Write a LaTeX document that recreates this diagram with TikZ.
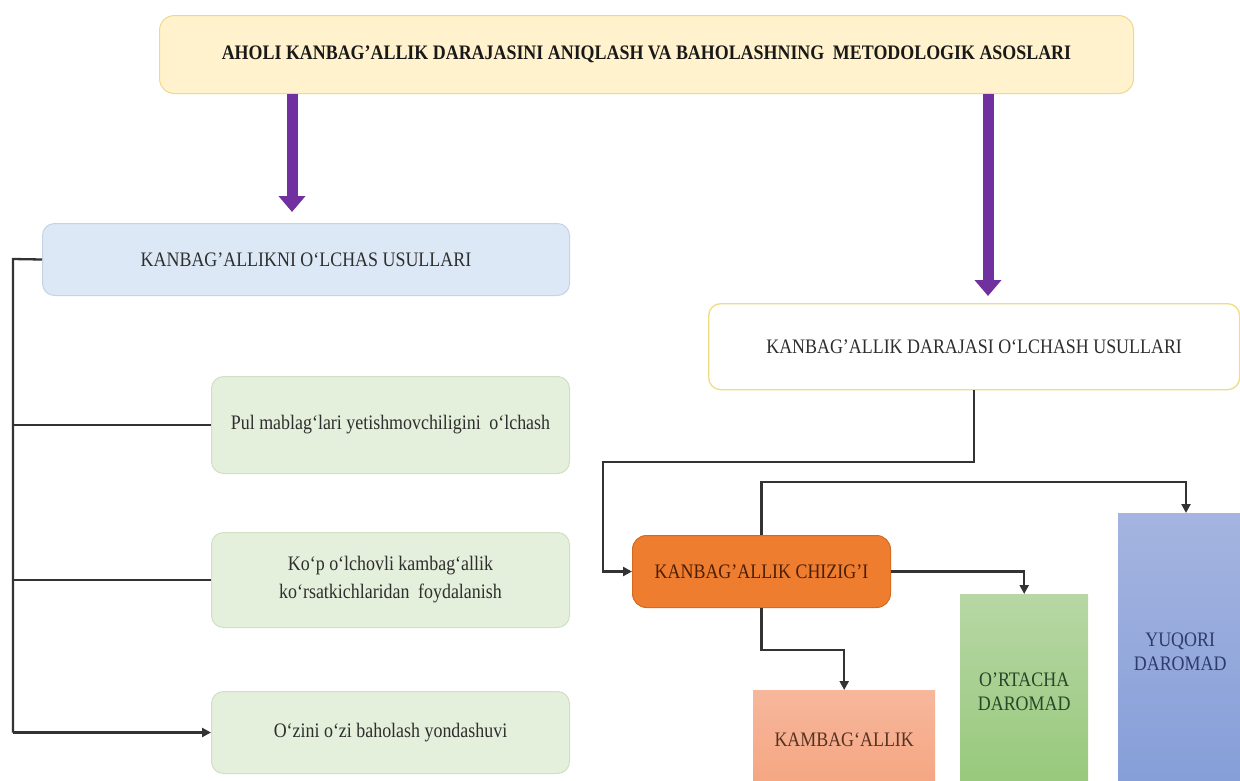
\documentclass[tikz,border=0pt]{standalone}
\usepackage{fontspec}
\setmainfont[FakeStretch=0.87]{Liberation Serif}
\usetikzlibrary{arrows.meta,calc}
\definecolor{topfill}{HTML}{FFF2CC}
\definecolor{topdraw}{HTML}{F2D68A}
\definecolor{lhfill}{HTML}{DDE8F6}
\definecolor{lhdraw}{HTML}{C5D3E6}
\definecolor{gfill}{HTML}{E4EFDC}
\definecolor{gdraw}{HTML}{CFE0C4}
\definecolor{rhdraw}{HTML}{F0DC82}
\definecolor{orfill}{HTML}{EE7D2F}
\definecolor{ordraw}{HTML}{D4691F}
\definecolor{purp}{HTML}{7030A0}
\definecolor{conncol}{HTML}{333333}
\definecolor{txt}{HTML}{2E2E2E}
\tikzset{
  x=1pt,y=-1pt,
  box/.style={draw, line width=1pt, rounded corners=12pt, inner sep=0pt, align=center, anchor=north west, text=txt,
    font=\fontsize{20.6}{28}\selectfont},
  colbox/.style={draw=none, inner sep=0pt, align=center, anchor=north west, font=\fontsize{20.6}{24}\selectfont},
  conn/.style={draw=conncol, line width=2.3pt},
  conarr/.style={conn, -{Triangle[width=9pt,length=9pt]}},
  parrow/.style={draw=purp, line width=11pt, -{Triangle[width=26pt,length=16pt]}},
}
\begin{document}
\begin{tikzpicture}
\useasboundingbox (0,0) rectangle (1240,780);
\clip (0,0) rectangle (1240,780);
% top
\node[box, fill=topfill, draw=topdraw, rounded corners=15pt, minimum width=974pt, minimum height=78pt, text=black!90,
  font=\fontsize{20.6}{22}\selectfont\bfseries] (top) at (159,15)
  {AHOLI KANBAG’ALLIK DARAJASINI ANIQLASH VA BAHOLASHNING\hspace{0.2em} METODOLOGIK ASOSLARI};
% left header
\node[box, fill=lhfill, draw=lhdraw, minimum width=527pt, minimum height=72pt] (lh) at (42,223)
  {KANBAG’ALLIKNI O‘LCHAS USULLARI};
% green boxes
\node[box, fill=gfill, draw=gdraw, minimum width=358pt, minimum height=97pt] (g1) at (211,376)
  {Pul mablag‘lari yetishmovchiligini\hspace{0.2em} o‘lchash};
\node[box, fill=gfill, draw=gdraw, minimum width=358pt, minimum height=95pt] (g2) at (211,532)
  {Ko‘p o‘lchovli kambag‘allik\\ko‘rsatkichlaridan\hspace{0.2em} foydalanish};
\node[box, fill=gfill, draw=gdraw, minimum width=358pt, minimum height=82pt] (g3) at (211,691)
  {O‘zini o‘zi baholash yondashuvi};
% right header
\node[box, fill=white, draw=rhdraw, line width=1.3pt, minimum width=531pt, minimum height=86pt] (rh) at (708,303)
  {KANBAG’ALLIK DARAJASI O‘LCHASH USULLARI};
% orange
\node[box, fill=orfill, draw=ordraw, rounded corners=14pt, minimum width=258pt, minimum height=72pt, text={rgb,255:red,75;green,30;blue,5}] (ch) at (632,535)
  {KANBAG’ALLIK CHIZIG’I};
% columns
\node[colbox, top color={rgb,255:red,247;green,183;blue,156}, bottom color={rgb,255:red,245;green,165;blue,128},
  minimum width=182pt, minimum height=100pt, text={rgb,255:red,85;green,50;blue,35}] (kb) at (753,690) {KAMBAG‘ALLIK};
\node[colbox, top color={rgb,255:red,183;green,215;blue,165}, bottom color={rgb,255:red,150;green,200;blue,122},
  minimum width=128pt, minimum height=196pt, text={rgb,255:red,40;green,70;blue,40}] (ort) at (960,594) {O’RTACHA\\DAROMAD};
\node[colbox, top color={rgb,255:red,165;green,180;blue,224}, bottom color={rgb,255:red,132;green,158;blue,216},
  minimum width=124pt, minimum height=277pt, text={rgb,255:red,45;green,60;blue,105}] (yuq) at (1118,513) {YUQORI\\DAROMAD};
% purple arrows
\coordinate (pa1) at (292,212);
\coordinate (pa2) at (988,296);
\draw[parrow] (top.south -| pa1) -- (pa1);
\draw[parrow] (top.south -| pa2) -- (pa2);
% left connectors
\coordinate (spine) at (13,259);
\draw[conn] (lh.west) -- (spine) -- (spine |- g3.west);
\draw[conarr] (spine |- g3.west) -- (g3.west);
\draw[conn] (g1.west) -- (g1.west -| spine);
\draw[conn] (g2.west) -- (g2.west -| spine);
% right connectors
\coordinate (j1) at (603,462);
\draw[conarr] (rh.south) |- (j1) |- (ch.west);
\coordinate (j2) at (1186,482);
\draw[conarr] (ch.north) |- (j2) -- (j2 |- yuq.north);
\draw[conarr] (ch.east) -| (ort.north);
\draw[conarr] (ch.south) -- ++(0,42) -| (kb.north);
\end{tikzpicture}
\end{document}
